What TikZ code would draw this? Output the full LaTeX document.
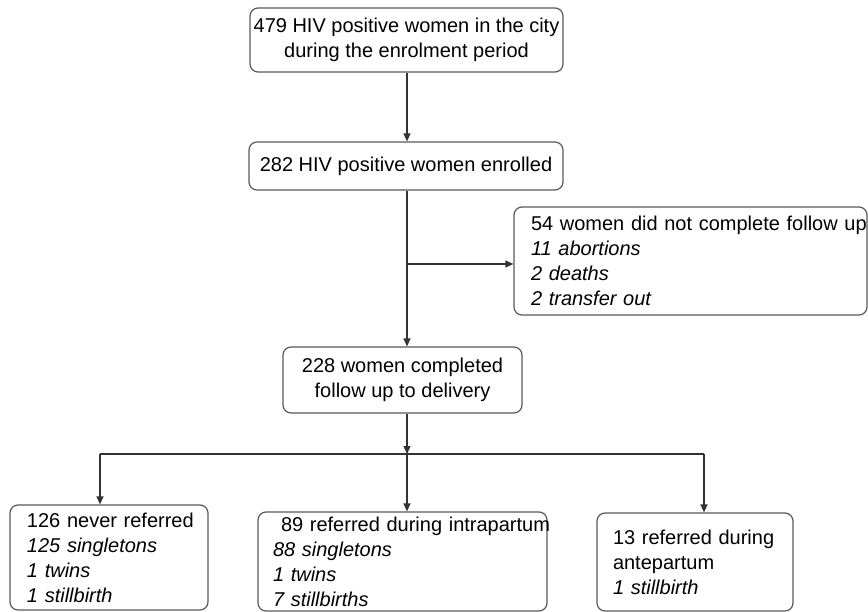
\documentclass[tikz,border=0pt]{standalone}
\usepackage{fontspec}
\setmainfont{Liberation Sans}
\usetikzlibrary{arrows.meta}
\begin{document}
\begin{tikzpicture}[x=1pt,y=-1pt,
  box/.style={draw=black!65, line width=1.2pt, rounded corners=8pt, inner sep=0pt,
    font=\fontsize{20}{25}\selectfont},
  cbox/.style={box, align=center},
  lbox/.style={box, align=left},
  conn/.style={draw=black!80, line width=1.3pt},
  arr/.style={conn, -{Triangle[length=8pt,width=7pt]}}]
\useasboundingbox (0,0) rectangle (868,612);

\node[cbox, minimum width=313pt, minimum height=64pt] (b1) at (406.5,40)
  {479 HIV positive women in the city\\during the enrolment period};
\node[cbox, minimum width=314pt, minimum height=48pt] (b2) at (406,166)
  {282 HIV positive women enrolled};
\node[lbox, minimum height=108pt, inner xsep=17pt, text width=319pt] (b3) at (690.5,261)
  {\mbox{54 women did not complete follow up}\\\mbox{\textit{11 abortions}}\\\mbox{\textit{2 deaths}}\\\mbox{\textit{2 transfer out}}};
\node[cbox, minimum width=239pt, minimum height=66pt] (b4) at (402.5,380)
  {228 women completed\\follow up to delivery};
\node[lbox, minimum height=105pt, inner xsep=17pt, text width=164pt] (b5) at (109,557.5)
  {\mbox{126 never referred}\\\mbox{\textit{125 singletons}}\\\mbox{\textit{1 twins}}\\\mbox{\textit{1 stillbirth}}};
\node[lbox, minimum height=99pt, inner xsep=15pt, text width=259pt] (b6) at (402.5,561.5)
  {\raisebox{0pt}[\height][\depth]{\vphantom{X}}\mbox{\hspace*{8pt}89 referred during intrapartum}\\\mbox{\textit{88 singletons}}\\\mbox{\textit{1 twins}}\\\mbox{\textit{7 stillbirths}}};
\node[lbox, minimum height=98pt, inner xsep=16pt, text width=164pt] (b7) at (695,562)
  {\mbox{13 referred during}\\\mbox{antepartum}\\\mbox{\textit{1 stillbirth}}};

\coordinate (br) at (407,264);
\coordinate (j) at (407,454);
\coordinate (jl) at (100,454);
\coordinate (jr) at (704,454);

\draw[arr] (b1.south -| j) -- (b2.north -| j);
\draw[arr] (b2.south -| j) -- (b4.north -| j);
\draw[arr] (br) -- (br -| b3.west);
\draw[arr] (b4.south -| j) -- (j);
\draw[conn] (jl) -- (jr);
\draw[arr] (jl) -- (jl |- b5.north);
\draw[arr] (j) -- (j |- b6.north);
\draw[arr] (jr) -- (jr |- b7.north);
\end{tikzpicture}
\end{document}
